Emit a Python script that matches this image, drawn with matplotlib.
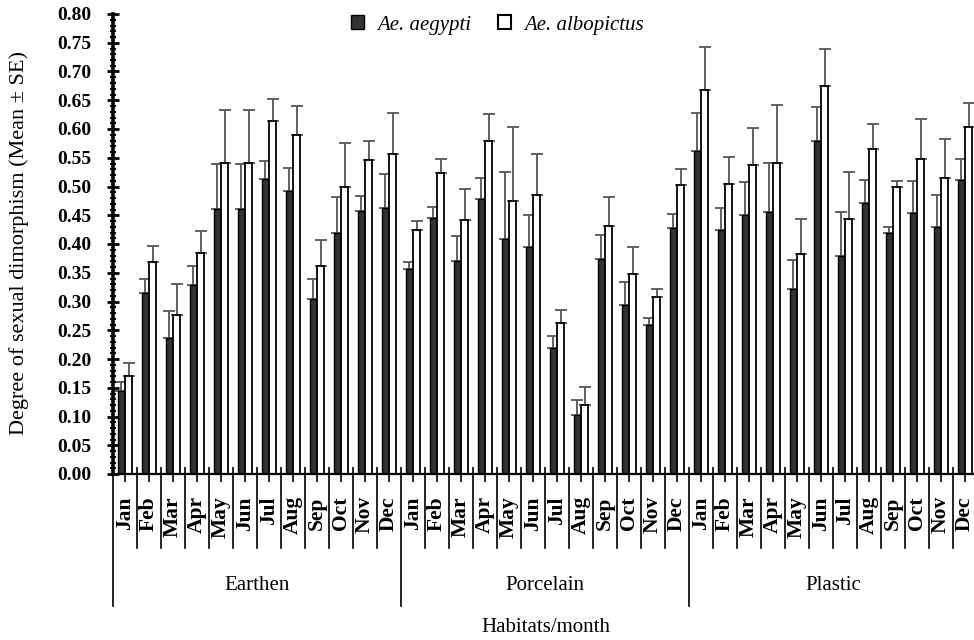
import matplotlib
matplotlib.use("Agg")
import matplotlib.pyplot as plt
from matplotlib.patches import Patch
from matplotlib.ticker import MultipleLocator, FixedLocator
import numpy as np

months = ["Jan", "Feb", "Mar", "Apr", "May", "Jun", "Jul", "Aug", "Sep", "Oct", "Nov", "Dec"]
habitats = ["Earthen", "Porcelain", "Plastic"]

# Ae. aegypti means (Earthen, Porcelain, Plastic)
aegypti_mean = [
    0.145, 0.315, 0.237, 0.329, 0.461, 0.461, 0.513, 0.493, 0.304, 0.419, 0.458, 0.463,
    0.356, 0.445, 0.370, 0.478, 0.409, 0.394, 0.220, 0.103, 0.374, 0.294, 0.259, 0.427,
    0.562, 0.424, 0.450, 0.456, 0.322, 0.579, 0.380, 0.472, 0.420, 0.454, 0.429, 0.511,
]
aegypti_top = [
    0.160, 0.340, 0.283, 0.362, 0.540, 0.540, 0.544, 0.533, 0.340, 0.482, 0.483, 0.522,
    0.368, 0.465, 0.414, 0.514, 0.526, 0.450, 0.240, 0.129, 0.415, 0.334, 0.272, 0.452,
    0.627, 0.463, 0.507, 0.541, 0.372, 0.639, 0.455, 0.511, 0.430, 0.510, 0.485, 0.547,
]
albopictus_mean = [
    0.170, 0.368, 0.276, 0.384, 0.541, 0.541, 0.614, 0.590, 0.362, 0.499, 0.546, 0.556,
    0.424, 0.523, 0.442, 0.579, 0.474, 0.486, 0.262, 0.120, 0.432, 0.347, 0.308, 0.503,
    0.667, 0.504, 0.537, 0.541, 0.383, 0.675, 0.443, 0.565, 0.499, 0.548, 0.514, 0.604,
]
albopictus_top = [
    0.193, 0.397, 0.330, 0.423, 0.633, 0.633, 0.652, 0.640, 0.407, 0.575, 0.580, 0.627,
    0.440, 0.548, 0.495, 0.626, 0.603, 0.556, 0.286, 0.152, 0.481, 0.395, 0.322, 0.530,
    0.742, 0.551, 0.602, 0.641, 0.443, 0.740, 0.525, 0.609, 0.510, 0.617, 0.583, 0.645,
]

plt.rcParams['font.family'] = ['Liberation Serif', 'DejaVu Serif']

fig = plt.figure(figsize=(9.74, 6.4), dpi=100)
L, R, B, T = 113, 974, 474, 14
ax = fig.add_axes([L / 974, 1 - B / 640, (R - L) / 974, (B - T) / 640])

n = len(aegypti_mean)
centers = np.arange(n) + 0.5
w = 0.31
a_mean = np.array(aegypti_mean)
b_mean = np.array(albopictus_mean)
a_err = np.array(aegypti_top) - a_mean
b_err = np.array(albopictus_top) - b_mean

ax.bar(centers - w / 2, a_mean, width=w, color="#333333", edgecolor="black", linewidth=1.0, zorder=2)
ax.bar(centers + w / 2, b_mean, width=w, color="white", edgecolor="black", linewidth=1.3, zorder=2)
ax.errorbar(centers - w / 2, a_mean, yerr=[np.zeros(n), a_err], fmt="none", ecolor="#555555",
            elinewidth=1.3, capsize=4, capthick=1.3, zorder=1)
ax.errorbar(centers + w / 2, b_mean, yerr=[np.zeros(n), b_err], fmt="none", ecolor="#555555",
            elinewidth=1.3, capsize=4, capthick=1.3, zorder=1)

ax.set_xlim(0, (R - L) / 24)
ax.set_ylim(0, 0.80)

for s in ["top", "right"]:
    ax.spines[s].set_visible(False)
ax.spines["left"].set_linewidth(2.6)
ax.spines["bottom"].set_linewidth(1.6)

ax.yaxis.set_major_locator(MultipleLocator(0.05))
ax.yaxis.set_minor_locator(MultipleLocator(0.01))
ax.set_yticks(np.arange(0, 0.801, 0.05))
ax.set_yticklabels([f"{v:.2f}" for v in np.arange(0, 0.801, 0.05)], fontsize=14, fontweight="bold")
ax.tick_params(axis="y", which="major", direction="inout", length=9, width=2, pad=11)
ax.tick_params(axis="y", which="minor", direction="inout", length=5, width=1.5)

ax.set_xticks(centers)
ax.set_xticklabels(months * 3, rotation=90, fontsize=15.5, fontweight="bold", va="top")
ax.tick_params(axis="x", which="major", direction="out", length=6, width=1.2, pad=10)
ax.xaxis.set_minor_locator(FixedLocator(np.arange(1, n + 1)))
ax.tick_params(axis="x", which="minor", direction="in", length=5, width=1.2)

# separators below the axis
ah = B - T
for i in range(0, n + 1):
    if i % 12 == 0:
        y2 = -(606 - B) / ah
    else:
        y2 = -(548 - B) / ah
    ax.plot([i, i], [0, y2], transform=ax.get_xaxis_transform(), color="black",
            linewidth=1.2, clip_on=False)

for k, h in enumerate(habitats):
    ax.text(12 * k + 6, -(585 - B) / ah, h, transform=ax.get_xaxis_transform(),
            ha="center", va="center", fontsize=15)

ax.text((546 - L) / 24, -(627 - B) / ah, "Habitats/month", transform=ax.get_xaxis_transform(),
        ha="center", va="center", fontsize=15)

ax.set_ylabel("Degree of sexual dimorphism (Mean ± SE)", fontsize=16)
ax.yaxis.set_label_coords(-(L - 29) / (R - L), (B - 243) / ah)

handles = [Patch(facecolor="#333333", edgecolor="black", label="Ae. aegypti"),
           Patch(facecolor="white", edgecolor="black", linewidth=1.5, label="Ae. albopictus")]
leg = fig.legend(handles=handles, loc="center", bbox_to_anchor=(497 / 974, 1 - 25 / 640), ncol=2,
                 frameon=False, handlelength=0.65, handleheight=0.65, handletextpad=0.6,
                 columnspacing=1.3, prop={"style": "italic", "size": 15})

fig.savefig("out.png", dpi=100)
